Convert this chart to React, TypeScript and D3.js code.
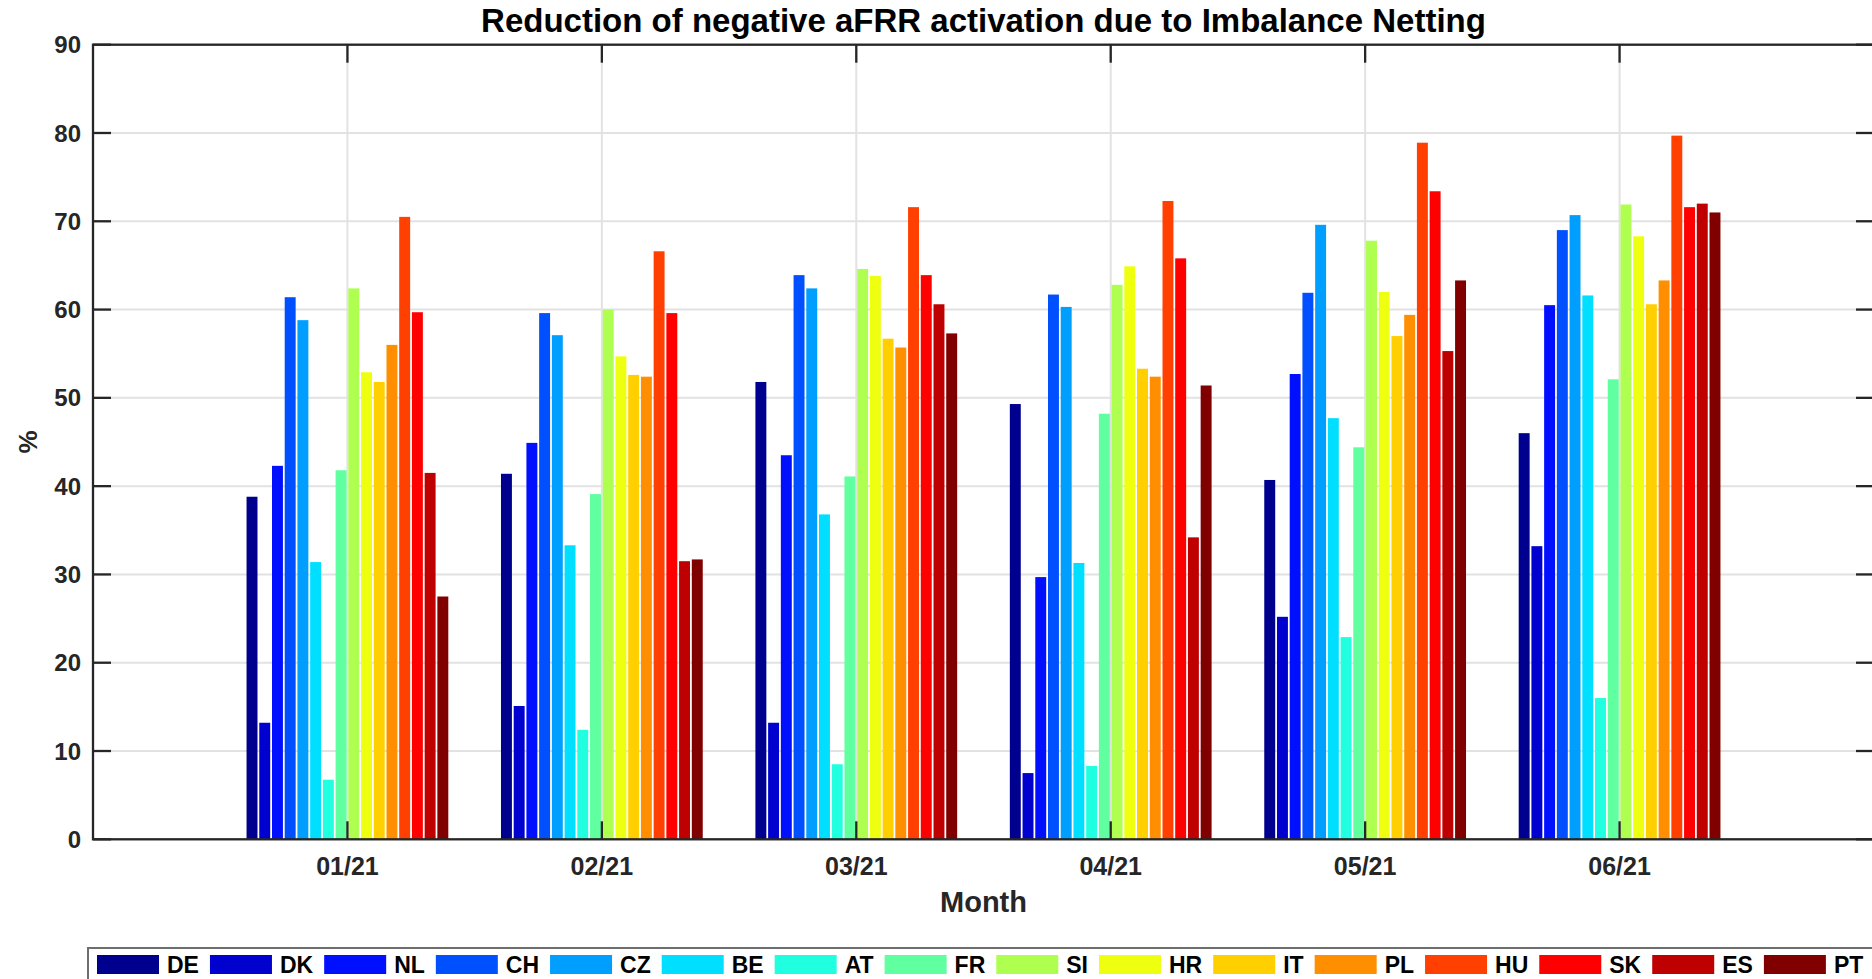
import React, { useMemo } from 'react';
import * as d3 from 'd3';

// months on the x axis (bar groups)
const months = ['01/21', '02/21', '03/21', '04/21', '05/21', '06/21'];

// countries in legend / bar order
const countries = ['DE', 'DK', 'NL', 'CH', 'CZ', 'BE', 'AT', 'FR', 'SI', 'HR', 'IT', 'PL', 'HU', 'SK', 'ES', 'PT'];

// jet-like palette, one per country
const countryColors = [
  '#00008f', '#0000cf', '#0010ff', '#0050ff', '#009fff', '#00dfff', '#20ffdf', '#60ff9f',
  '#afff50', '#efff10', '#ffcf00', '#ff8f00', '#ff4000', '#ff0000', '#bf0000', '#800000',
];

// reduction in % per month
const DE = [38.8, 41.4, 51.8, 49.3, 40.7, 46.0];
const DK = [13.2, 15.1, 13.2, 7.5, 25.2, 33.2];
const NL = [42.3, 44.9, 43.5, 29.7, 52.7, 60.5];
const CH = [61.4, 59.6, 63.9, 61.7, 61.9, 69.0];
const CZ = [58.8, 57.1, 62.4, 60.3, 69.6, 70.7];
const BE = [31.4, 33.3, 36.8, 31.3, 47.7, 61.6];
const AT = [6.75, 12.4, 8.5, 8.3, 22.9, 16.0];
const FR = [41.8, 39.1, 41.1, 48.2, 44.4, 52.1];
const SI = [62.4, 60.0, 64.6, 62.8, 67.8, 71.9];
const HR = [52.9, 54.7, 63.8, 64.9, 62.0, 68.3];
const IT = [51.8, 52.6, 56.7, 53.3, 57.0, 60.6];
const PL = [56.0, 52.4, 55.7, 52.4, 59.4, 63.3];
const HU = [70.5, 66.6, 71.6, 72.3, 78.9, 79.7];
const SK = [59.7, 59.6, 63.9, 65.8, 73.4, 71.6];
const ES = [41.5, 31.5, 60.6, 34.2, 55.3, 72.0];
const PT = [27.5, 31.7, 57.3, 51.4, 63.3, 71.0];

const seriesValues = [DE, DK, NL, CH, CZ, BE, AT, FR, SI, HR, IT, PL, HU, SK, ES, PT];

const yTicks = [0, 10, 20, 30, 40, 50, 60, 70, 80, 90];

const W = 1872;
const H = 979;
const FONT = '"Liberation Sans", Arial, Helvetica, sans-serif';
const AXIS = '#262626';
const GRID = '#e2e2e2';

const App: React.FC = () => {
  const x = d3.scaleLinear().domain([0, 7]).range([93, 1874]);
  const y = d3.scaleLinear().domain([0, 90]).range([839.3, 44.7]);

  const nS = countries.length;
  const groupWidth = 0.8;
  const slot = groupWidth / nS;
  const barW = x(slot * 0.86) - x(0);
  const tickLen = 18;

  const x0 = x(0), x1 = x(7), yTop = y(90), yBot = y(0);

  // legend layout: measure label widths so entries flow like MATLAB's horizontal legend
  const legendItems = useMemo(() => {
    const canvas = document.createElement('canvas');
    const ctx = canvas.getContext('2d')!;
    ctx.font = `bold 23px ${FONT}`;
    let cx = 97;
    return countries.map((c, i) => {
      const item = { name: c, color: countryColors[i], x: cx };
      cx += 62 + 8 + ctx.measureText(c).width + 11;
      return item;
    });
  }, []);

  return (
    <div style={{ position: 'fixed', left: 0, top: 0, width: W, height: H, overflow: 'hidden', background: '#fff' }}>
      <svg width={W} height={H} style={{ display: 'block' }} fontFamily={FONT}>
        <rect width={W} height={H} fill="#fff" />

        {/* grid */}
        <g stroke={GRID} strokeWidth={2}>
          {yTicks.map(t => (
            <line key={'gy' + t} x1={x0} x2={x1} y1={y(t)} y2={y(t)} />
          ))}
          {months.map((m, i) => (
            <line key={'gx' + m} x1={x(i + 1)} x2={x(i + 1)} y1={yTop} y2={yBot} />
          ))}
        </g>

        {/* bars */}
        <g>
          {seriesValues.map((vals, si) =>
            vals.map((v, mi) => {
              const c = mi + 1 - groupWidth / 2 + slot * (si + 0.5);
              return (
                <rect
                  key={`${si}-${mi}`}
                  x={x(c) - barW / 2}
                  y={y(v)}
                  width={barW}
                  height={yBot - y(v)}
                  fill={countryColors[si]}
                />
              );
            })
          )}
        </g>

        {/* axes box and ticks */}
        <g stroke={AXIS} strokeWidth={2.3} fill="none">
          <rect x={x0} y={yTop} width={x1 - x0} height={yBot - yTop} />
          {yTicks.map(t => (
            <g key={'ty' + t}>
              <line x1={x0} x2={x0 + tickLen} y1={y(t)} y2={y(t)} />
              <line x1={x1 - tickLen} x2={x1} y1={y(t)} y2={y(t)} />
            </g>
          ))}
          {months.map((m, i) => (
            <g key={'tx' + m}>
              <line x1={x(i + 1)} x2={x(i + 1)} y1={yBot} y2={yBot - tickLen} />
              <line x1={x(i + 1)} x2={x(i + 1)} y1={yTop} y2={yTop + tickLen} />
            </g>
          ))}
        </g>

        {/* tick labels */}
        <g fill={AXIS} fontWeight="bold" fontSize={24} textAnchor="end">
          {yTicks.map(t => (
            <text key={'ly' + t} x={81} y={y(t)} dy="0.36em">{t}</text>
          ))}
        </g>
        <g fill={AXIS} fontWeight="bold" fontSize={25} textAnchor="middle">
          {months.map((m, i) => (
            <text key={'lx' + m} x={x(i + 1)} y={875}>{m}</text>
          ))}
        </g>

        {/* axis labels and title */}
        <text x={(x0 + x1) / 2} y={912} textAnchor="middle" fontWeight="bold" fontSize={29} fill={AXIS}>Month</text>
        <text transform={`translate(37,${(yTop + yBot) / 2}) rotate(-90)`} textAnchor="middle" fontWeight="bold" fontSize={26} fill={AXIS}>%</text>
        <text x={(x0 + x1) / 2} y={32} textAnchor="middle" fontWeight="bold" fontSize={33} fill="#000">
          Reduction of negative aFRR activation due to Imbalance Netting
        </text>

        {/* legend */}
        <g>
          <rect x={88} y={948} width={1820} height={60} fill="#fff" stroke="#6e6e6e" strokeWidth={2} />
          {legendItems.map(it => (
            <g key={'lg' + it.name}>
              <rect x={it.x} y={955} width={62} height={19} fill={it.color} />
              <text x={it.x + 70} y={972.5} fontWeight="bold" fontSize={23} fill="#000">{it.name}</text>
            </g>
          ))}
        </g>
      </svg>
    </div>
  );
};

export default App;
